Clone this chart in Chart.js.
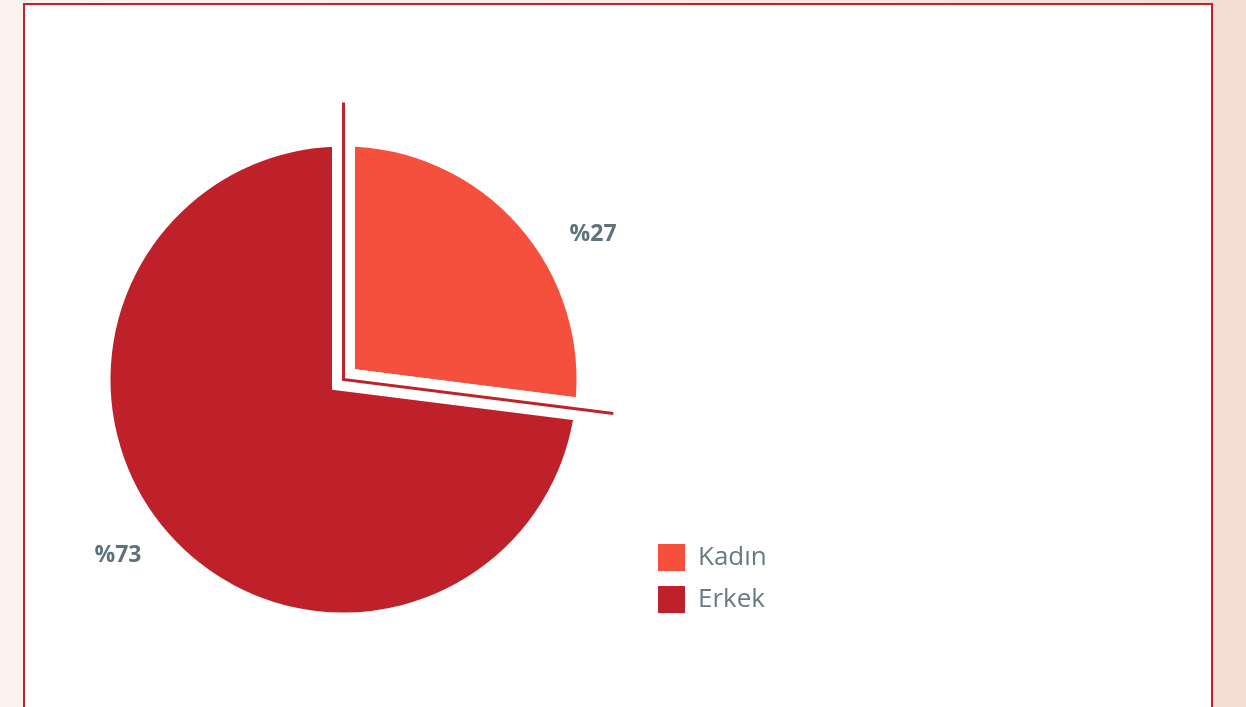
<!DOCTYPE html>
<html>
<head>
<meta charset="utf-8">
<script src="https://cdn.jsdelivr.net/npm/chart.js@4/dist/chart.umd.min.js"></script>
<style>
  html, body { margin: 0; padding: 0; width: 1246px; height: 707px; overflow: hidden; }
  body { background: linear-gradient(90deg, #FCF3EF 0%, #F8E8E2 60%, #F3DDD5 100%); position: relative; }
  #card { position: absolute; left: 23px; top: 3px; width: 1190px; height: 740px; box-sizing: border-box;
          border: 2.5px solid #C62129; background: #FFFFFF; }
  #wrap { position: absolute; left: 0; top: 0; width: 1246px; height: 707px; }
</style>
</head>
<body>
<div id="card"></div>
<div id="wrap"><canvas id="c" width="1246" height="707"></canvas></div>
<script>
const categories = ['Kadın', 'Erkek'];
const shares = [27, 73];
const sliceColors = ['#F5503E', '#BE2129'];

const legendFont = { family: '"Open Sans", "Noto Sans", sans-serif', size: 26 };
// measure legend text so the legend box (and thus the pie centre) lands where intended
const mctx = document.createElement('canvas').getContext('2d');
mctx.font = legendFont.size + 'px ' + legendFont.family;
const textW = Math.max(...categories.map(t => mctx.measureText(t).width));
const legendW = 15 + 27 + legendFont.size / 2 + textW + 10;
const legendLeft = 643;
const padRight = 1246 - legendLeft - legendW;

const GAP = 11.5;       // half of the white gap between slices
const VIS_R = 233;      // visible pie radius

const guidePlugin = {
  id: 'guide',
  afterDatasetsDraw(chart) {
    const arc = chart.getDatasetMeta(0).data[0];
    if (!arc) return;
    const {x, y, startAngle, endAngle} = arc;
    const r = arc.outerRadius - GAP;
    const ctx = chart.ctx;
    ctx.save();
    ctx.strokeStyle = '#C0222A';
    ctx.lineWidth = 3;
    ctx.lineJoin = 'miter';
    ctx.beginPath();
    ctx.moveTo(x + (r + 44) * Math.cos(startAngle), y + (r + 44) * Math.sin(startAngle));
    ctx.lineTo(x, y);
    ctx.lineTo(x + (r + 39) * Math.cos(endAngle), y + (r + 39) * Math.sin(endAngle));
    ctx.stroke();
    ctx.restore();
  }
};

const labelPlugin = {
  id: 'pctLabels',
  afterDatasetsDraw(chart, args, opts) {
    const meta = chart.getDatasetMeta(0);
    const ctx = chart.ctx;
    ctx.save();
    ctx.font = 'bold 23px "Open Sans", "Noto Sans", sans-serif';
    ctx.fillStyle = '#5F717B';
    ctx.textAlign = 'center';
    ctx.textBaseline = 'middle';
    meta.data.forEach((arc, i) => {
      const {x, y, startAngle, endAngle} = arc;
      const mid = (startAngle + endAngle) / 2;
      const R = 290;
      const sh = opts.shifts[i] || [0, 0];
      ctx.fillText('%' + shares[i], x + R * Math.cos(mid) + sh[0], y + R * Math.sin(mid) + sh[1]);
    });
    ctx.restore();
  }
};

new Chart(document.getElementById('c'), {
  type: 'pie',
  data: {
    labels: categories,
    datasets: [{
      data: shares,
      backgroundColor: sliceColors,
      borderColor: '#FFFFFF',
      borderWidth: 2 * GAP,
      borderAlign: 'center',
      borderJoinStyle: 'miter',
      offset: 0,
      hoverOffset: 0
    }]
  },
  options: {
    responsive: false,
    animation: false,
    radius: VIS_R + GAP,
    layout: { padding: { left: 44, top: 131, bottom: 79, right: padRight } },
    plugins: {
      tooltip: { enabled: false },
      legend: {
        position: 'right',
        align: 'end',
        labels: {
          boxWidth: 27,
          boxHeight: 27,
          padding: 15,
          color: '#687A84',
          font: legendFont,
          generateLabels(chart) {
            const items = Chart.overrides.pie.plugins.legend.labels.generateLabels(chart);
            items.forEach((it, i) => { it.lineWidth = 0; it.strokeStyle = sliceColors[i]; });
            return items;
          }
        }
      },
      pctLabels: { shifts: [[32, 47], [-8, -16]] }
    }
  },
  plugins: [guidePlugin, labelPlugin]
});
</script>
</body>
</html>
